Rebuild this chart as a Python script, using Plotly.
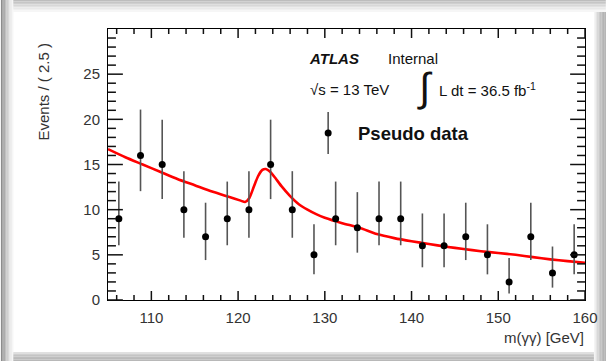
import plotly.graph_objects as go

# ---------------- data ----------------
bin_centers = [106.25, 108.75, 111.25, 113.75, 116.25, 118.75, 121.25, 123.75,
               126.25, 128.75, 131.25, 133.75, 136.25, 138.75, 141.25, 143.75,
               146.25, 148.75, 151.25, 153.75, 156.25, 158.75]
counts = [9, 16, 15, 10, 7, 9, 10, 15, 10, 5, 9, 8, 9, 9, 6, 6, 7, 5, 2, 7, 3, 5]
# Poisson (68%) error bars read per count
err_lo_table = {2: 1.29, 3: 1.63, 5: 2.16, 6: 2.38, 7: 2.58, 8: 2.76, 9: 2.94,
                10: 3.11, 15: 3.83, 16: 3.95}
err_hi_table = {2: 2.64, 3: 2.92, 5: 3.38, 6: 3.58, 7: 3.77, 8: 3.94, 9: 4.11,
                10: 4.26, 15: 4.96, 16: 5.08}
err_lo = [err_lo_table[c] for c in counts]
err_hi = [err_hi_table[c] for c in counts]

fit_x = [105, 107, 109, 111, 113, 115, 117, 119, 120.3, 120.8, 121.3, 121.8,
         122.3, 122.8, 123.2, 123.7, 124.3, 125, 126, 127, 128, 129, 130, 132,
         134, 136, 138, 140, 142, 144, 146, 148, 150, 152, 154, 156, 158, 160]
fit_y = [16.7, 15.8, 15.0, 14.2, 13.4, 12.7, 12.0, 11.4, 11.0, 10.85, 11.3, 12.5,
         13.7, 14.4, 14.5, 14.2, 13.5, 12.6, 11.5, 10.6, 10.0, 9.5, 9.1, 8.5,
         8.0, 7.3, 6.85, 6.5, 6.2, 5.9, 5.65, 5.4, 5.2, 5.0, 4.75, 4.5, 4.3, 4.13]

x_range = [105, 160]
y_range = [0, 30]
x_tickvals = [110, 120, 130, 140, 150, 160]
y_tickvals = [0, 5, 10, 15, 20, 25]
x_minor = [106, 108, 112, 114, 116, 118, 122, 124, 126, 128, 132, 134, 136, 138,
           142, 144, 146, 148, 152, 154, 156, 158]
y_minor = [v for v in range(1, 30) if v % 5]

# ---------------- layout geometry (pixels) ----------------
W, H = 610, 361
L, R, T, B = 108, 21, 29, 61
PW, PH = W - L - R, H - T - B


def fx(px):
    return (px - L) / PW


def fy(py):
    return (H - B - py) / PH


def xfrac(v):
    return (v - x_range[0]) / (x_range[1] - x_range[0])


def yfrac(v):
    return (v - y_range[0]) / (y_range[1] - y_range[0])


FONT = "Liberation Sans, Arial, Helvetica, sans-serif"

fig = go.Figure()

fig.add_trace(go.Scatter(
    x=fit_x, y=fit_y, mode="lines",
    line=dict(color="#ff0000", width=2.6, shape="spline", smoothing=0.6),
    hoverinfo="skip", showlegend=False))

fig.add_trace(go.Scatter(
    x=bin_centers, y=counts, mode="markers",
    marker=dict(color="black", size=7),
    error_y=dict(type="data", symmetric=False, array=err_hi, arrayminus=err_lo,
                 color="#555555", thickness=1.6, width=0),
    showlegend=False))

# ---------------- soft shadow strips around the white panel ----------------
shapes = []


def rect(px0, py0, px1, py1, color):
    shapes.append(dict(type="rect", xref="paper", yref="paper", layer="below",
                       x0=fx(px0), x1=fx(px1), y0=fy(py1), y1=fy(py0),
                       line=dict(width=0), fillcolor=color))


left_cols = ["#8c8c8c", "#9c9c9c", "#acacac", "#bcbcbc", "#cacaca", "#d8d8d8",
             "#e4e4e4", "#eeeeee", "#f6f6f6"]
for i, c in enumerate(left_cols):
    rect(i * 1.4, 0, i * 1.4 + 1.5, H, c)
top_cols = ["#bdbdbd", "#c6c6c6", "#cfcfcf", "#d8d8d8", "#e1e1e1", "#e9e9e9",
            "#f0f0f0", "#f6f6f6"]
for i, c in enumerate(top_cols):
    rect(12.5, i * 1.5, W, i * 1.5 + 1.6, c)
right_cols = ["#f4f4f4", "#e6e6e6", "#d8d8d8", "#cccccc", "#c2c2c2", "#bababa",
              "#b4b4b4", "#b0b0b0"]
for i, c in enumerate(right_cols):
    rect(598 + i * 1.5, 12, 598 + i * 1.5 + 1.6, H, c)
bottom_cols = ["#e0e0e0", "#cfcfcf", "#c4c4c4", "#bdbdbd", "#bababa", "#b8b8b8"]
for i, c in enumerate(bottom_cols):
    rect(12.5, 352 + i * 1.5, 598, 352 + i * 1.5 + 1.6, c)

# ---------------- ROOT-style inward ticks on all four sides ----------------
TICK = dict(color="#111111", width=1.5)
xlen_major, xlen_minor = 9 / PH, 5 / PH
ylen_major, ylen_minor = 15 / PW, 8 / PW


def seg(x0, y0, x1, y1):
    shapes.append(dict(type="line", xref="paper", yref="paper",
                       x0=x0, x1=x1, y0=y0, y1=y1, line=TICK))


for vals, ln in ((x_tickvals, xlen_major), (x_minor, xlen_minor)):
    for v in vals:
        f = xfrac(v)
        seg(f, 0, f, ln)
        seg(f, 1 - ln, f, 1)
for vals, ln in ((y_tickvals, ylen_major), (y_minor, ylen_minor)):
    for v in vals:
        f = yfrac(v)
        seg(0, f, ln, f)
        seg(1 - ln, f, 1, f)

# legend key (point with error bar)
lx, ly = 330, 133
shapes.append(dict(type="line", xref="paper", yref="paper",
                   x0=fx(lx), x1=fx(lx), y0=fy(ly + 21), y1=fy(ly - 21),
                   line=dict(color="#555555", width=1.6)))
shapes.append(dict(type="circle", xref="paper", yref="paper",
                   xsizemode="pixel", ysizemode="pixel",
                   xanchor=fx(lx), yanchor=fy(ly),
                   x0=-3.5, x1=3.5, y0=-3.5, y1=3.5,
                   line=dict(width=0), fillcolor="black"))

ann = []


def text(s, px, py, size=15, xanchor="left", yanchor="middle", color="#111111", textangle=0):
    ann.append(dict(text=s, x=fx(px), y=fy(py), xref="paper", yref="paper",
                    xanchor=xanchor, yanchor=yanchor, showarrow=False,
                    textangle=textangle,
                    font=dict(family=FONT, size=size, color=color)))


text("<b><i>ATLAS</i></b>", 309, 58)
text("Internal", 388, 58)
text("√s = 13 TeV", 310, 89)
text("∫", 428, 87, size=40, xanchor="center")
text("L dt = 36.5 fb<sup>-1</sup>", 440, 89)
text("<b>Pseudo data</b>", 358, 133, size=18.5)
text("Events / ( 2.5 )", 43, 92, size=15, xanchor="center", textangle=-90, color="#333333")
text("m(γγ) [GeV]", 590, 338, size=15, xanchor="right", color="#333333")

fig.update_layout(
    width=W, height=H,
    margin=dict(l=L, r=R, t=T, b=B),
    paper_bgcolor="white", plot_bgcolor="white",
    shapes=shapes, annotations=ann,
)
fig.update_xaxes(range=x_range, tickvals=x_tickvals, ticks="",
                 showline=True, linecolor="#000000", linewidth=1, mirror=True,
                 showgrid=False, zeroline=False, ticklabelstandoff=4,
                 tickfont=dict(family=FONT, size=15, color="#333333"))
fig.update_yaxes(range=y_range, tickvals=y_tickvals, ticks="",
                 showline=True, linecolor="#000000", linewidth=1, mirror=True,
                 showgrid=False, zeroline=False, ticklabelstandoff=4,
                 tickfont=dict(family=FONT, size=15, color="#333333"))

fig.write_html("out.html")
